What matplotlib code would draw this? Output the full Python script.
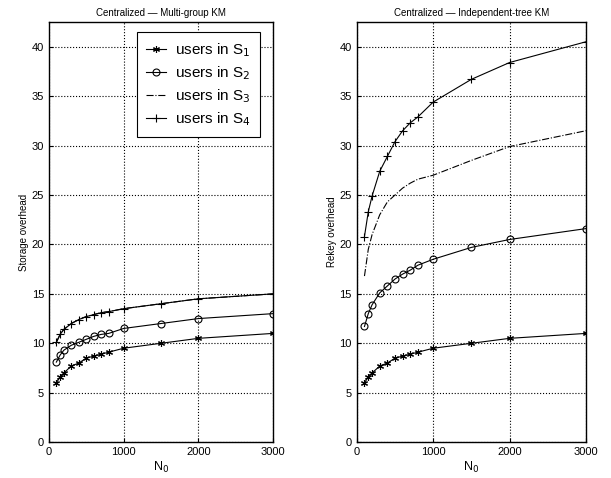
import matplotlib
matplotlib.use("Agg")
import matplotlib.pyplot as plt

plt.rcParams['font.family'] = ['Liberation Sans', 'DejaVu Sans']

# group sizes N0
n0 = [100, 150, 200, 300, 400, 500, 600, 700, 800, 1000, 1500, 2000, 3000]

# storage overhead (multi-group KM)
store_s1 = [6.0, 6.6, 7.0, 7.7, 8.0, 8.5, 8.7, 8.9, 9.1, 9.5, 10.0, 10.5, 11.0]
store_s2 = [8.1, 8.8, 9.3, 9.8, 10.1, 10.4, 10.7, 10.9, 11.0, 11.5, 12.0, 12.5, 13.0]
store_s3 = [10.1, 10.9, 11.4, 12.0, 12.4, 12.7, 12.9, 13.1, 13.2, 13.5, 14.0, 14.5, 15.0]
store_s4 = [10.1, 10.9, 11.4, 12.0, 12.4, 12.7, 12.9, 13.1, 13.2, 13.5, 14.0, 14.5, 15.0]

# rekey overhead (independent-tree KM)
rekey_s1 = [6.0, 6.6, 7.0, 7.7, 8.0, 8.5, 8.7, 8.9, 9.1, 9.5, 10.0, 10.5, 11.0]
rekey_s2 = [11.7, 13.0, 13.9, 15.1, 15.8, 16.5, 17.0, 17.4, 17.9, 18.5, 19.7, 20.5, 21.6]
rekey_s3 = [16.8, 19.5, 21.0, 23.0, 24.3, 25.0, 25.7, 26.2, 26.6, 27.0, 28.5, 29.9, 31.5]
rekey_s4 = [20.8, 23.3, 24.9, 27.4, 28.9, 30.4, 31.5, 32.3, 32.9, 34.4, 36.7, 38.4, 40.5]

labels = ['users in S$_1$', 'users in S$_2$', 'users in S$_3$', 'users in S$_4$']
styles = [dict(ls='-', marker=(6, 2, 0), ms=5), dict(ls='-', marker='o', ms=5, mfc='none'),
          dict(ls='-.', marker=None), dict(ls='-', marker='+', ms=6)]

fig = plt.figure(figsize=(6.11, 4.78), dpi=100)
ax1 = fig.add_axes([0.080, 0.075, 0.367, 0.879])
ax2 = fig.add_axes([0.584, 0.075, 0.375, 0.879])


def draw(ax, series, title, ylabel):
    for ys, lab, st in zip(series, labels, styles):
        ax.plot(n0, ys, color='black', lw=0.8, mew=0.8, label=lab, **st)
    ax.set_xlim(0, 3000)
    ax.set_ylim(0, 42.5)
    ax.set_xticks([0, 1000, 2000, 3000])
    ax.set_yticks(range(0, 45, 5))
    ax.grid(True, color='black', ls=':', lw=0.8)
    ax.tick_params(direction='in', labelsize=8, length=3)
    ax.set_title(title, fontsize=7, pad=4)
    ax.set_xlabel('N$_0$', fontsize=9, labelpad=2)
    ax.set_ylabel(ylabel, fontsize=7, labelpad=2)
    for sp in ax.spines.values():
        sp.set_linewidth(1.0)


draw(ax1, [store_s1, store_s2, store_s3, store_s4],
     'Centralized \u2014 Multi-group KM', 'Storage overhead')
draw(ax2, [rekey_s1, rekey_s2, rekey_s3, rekey_s4],
     'Centralized \u2014 Independent-tree KM', 'Rekey overhead')

leg = ax1.legend(loc='upper right', fontsize=11, fancybox=False, framealpha=1,
                 edgecolor='black', handlelength=1.3, handletextpad=0.6,
                 borderpad=0.6, labelspacing=0.35, borderaxespad=0,
                 bbox_to_anchor=(0.942, 0.976))
leg.get_frame().set_linewidth(0.8)

fig.savefig('out.png', dpi=100)
